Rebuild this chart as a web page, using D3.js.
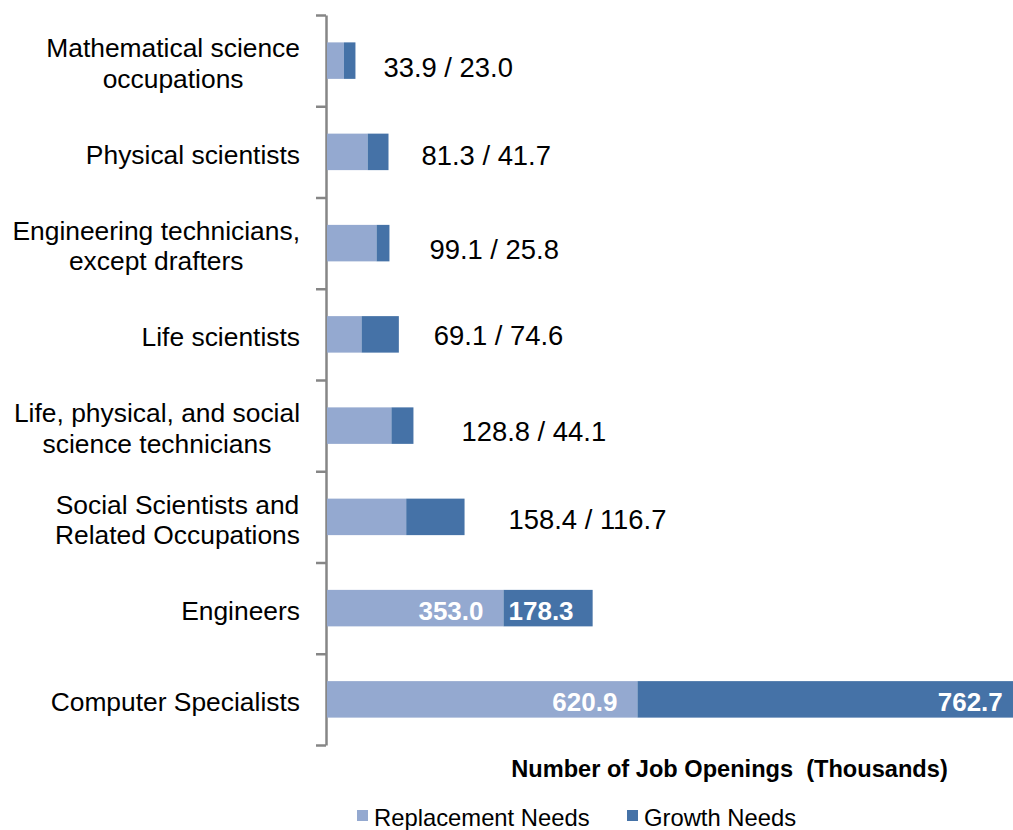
<!DOCTYPE html>
<html>
<head>
<meta charset="utf-8">
<script src="https://cdn.jsdelivr.net/npm/d3@7"></script>
<style>
  html, body { margin: 0; padding: 0; background: #fff; }
  svg { display: block; font-family: "Liberation Sans", Arial, sans-serif; }
</style>
</head>
<body>
<svg id="chart" width="1013" height="830"></svg>
<script>
// ---- Data ----
const categories = [
  ["Mathematical science", "occupations"],
  ["Physical scientists"],
  ["Engineering technicians,", "except drafters"],
  ["Life scientists"],
  ["Life, physical, and social", "science technicians"],
  ["Social Scientists and", "Related Occupations"],
  ["Engineers"],
  ["Computer Specialists"]
];
const replacementNeeds = [33.9, 81.3, 99.1, 69.1, 128.8, 158.4, 353.0, 620.9];
const growthNeeds      = [23.0, 41.7, 25.8, 74.6, 44.1, 116.7, 178.3, 762.7];
const seriesNames = ["Replacement Needs", "Growth Needs"];
const axisTitle = "Number of Job Openings  (Thousands)";

// ---- Layout (label placement tweaks, not data) ----
const outsideLabelDx = [28, 33, 40, 35, 48, 44];
const outsideLabelDy = [6, 3.5, 5.7, 0.7, 5.3, 1.7];
const insideLabelThreshold = 300; // bars wider than this get inside labels

const colors = ["#94A9D0", "#4572A7"];

const svg = d3.select("#chart");

const y = d3.scaleBand()
  .domain(d3.range(categories.length))
  .range([15, 745])
  .paddingInner(0.6)
  .paddingOuter(0.3);

const x = d3.scaleLinear().domain([0, 1400]).range([327, 1027]);

// Axis with ticks at band boundaries
const yB = d3.scaleLinear().domain([0, categories.length]).range([15, 745]);
const axisG = svg.append("g")
  .attr("transform", "translate(326,0)")
  .call(d3.axisLeft(yB).tickValues(d3.range(categories.length + 1))
        .tickFormat("").tickSize(10).tickSizeOuter(0));
axisG.select(".domain").attr("stroke", "#868686").attr("stroke-width", 2.5);
axisG.selectAll(".tick line").attr("stroke", "#868686").attr("stroke-width", 2.5);

// Bars
const rows = categories.map((c, i) => ({
  i, r: replacementNeeds[i], g: growthNeeds[i]
}));

const barG = svg.append("g");
barG.selectAll("rect.rep").data(rows).join("rect")
  .attr("class", "rep")
  .attr("x", d => x(0))
  .attr("y", d => y(d.i))
  .attr("width", d => x(d.r) - x(0))
  .attr("height", y.bandwidth())
  .attr("fill", colors[0]);
barG.selectAll("rect.gro").data(rows).join("rect")
  .attr("class", "gro")
  .attr("x", d => x(d.r))
  .attr("y", d => y(d.i))
  .attr("width", d => x(d.r + d.g) - x(d.r))
  .attr("height", y.bandwidth())
  .attr("fill", colors[1]);

// Value labels
const fmt = d3.format(".1f");
rows.forEach(d => {
  const cy = y(d.i) + y.bandwidth() / 2;
  if (d.r + d.g > insideLabelThreshold) {
    svg.append("text")
      .attr("x", x(d.r) - 20)
      .attr("y", cy + 12)
      .attr("text-anchor", "end")
      .attr("fill", "#fff")
      .attr("font-weight", "bold")
      .attr("font-size", 26)
      .text(fmt(d.r));
    const big = d.g > 500;
    svg.append("text")
      .attr("x", big ? x(d.r + d.g) - 16 : x(d.r) + 5)
      .attr("y", cy + 12)
      .attr("text-anchor", big ? "end" : "start")
      .attr("fill", "#fff")
      .attr("font-weight", "bold")
      .attr("font-size", 26)
      .text(fmt(d.g));
  } else {
    svg.append("text")
      .attr("x", x(d.r + d.g) + outsideLabelDx[d.i])
      .attr("y", cy + 10 + outsideLabelDy[d.i])
      .attr("fill", "#000")
      .attr("font-size", 27.4)
      .text(fmt(d.r) + " / " + fmt(d.g));
  }
});

// Category labels (multi-line centered block, right aligned)
const labelRight = 300;
const lineH = 30.6;
categories.forEach((lines, i) => {
  const cy = y(i) + y.bandwidth() / 2;
  const g = svg.append("g");
  const texts = lines.map((ln, k) => g.append("text")
    .attr("font-size", 26.4)
    .attr("fill", "#000")
    .attr("y", cy + 12 + (k - (lines.length - 1) / 2) * lineH)
    .text(ln));
  const maxW = d3.max(texts, t => t.node().getComputedTextLength());
  texts.forEach(t => t.attr("x", labelRight - maxW / 2).attr("text-anchor", "middle"));
});

// Axis title
svg.append("text")
  .attr("x", 729.5)
  .attr("y", 777)
  .attr("text-anchor", "middle")
  .attr("font-weight", "bold")
  .attr("font-size", 23.6)
  .style("white-space", "pre")
  .attr("xml:space", "preserve")
  .text(axisTitle);

// Legend
const legendX = [357, 627];
seriesNames.forEach((s, k) => {
  svg.append("rect")
    .attr("x", legendX[k])
    .attr("y", 810)
    .attr("width", 11)
    .attr("height", 11)
    .attr("fill", colors[k]);
  svg.append("text")
    .attr("x", legendX[k] + 17)
    .attr("y", 826)
    .attr("font-size", 23.8)
    .attr("fill", "#000")
    .text(s);
});
</script>
</body>
</html>
